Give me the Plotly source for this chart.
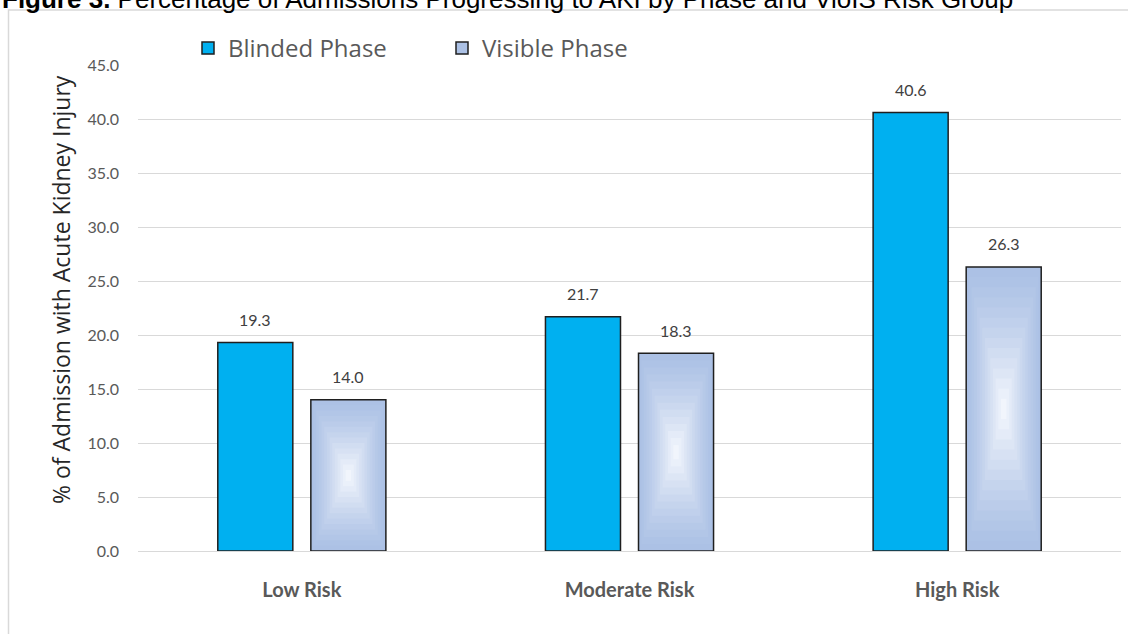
import plotly.graph_objects as go

categories = ["Low Risk", "Moderate Risk", "High Risk"]
blinded = [19.3, 21.7, 40.6]
visible = [14.0, 18.3, 26.3]
y_ticks = [0, 5, 10, 15, 20, 25, 30, 35, 40, 45]
series_names = ["Blinded Phase", "Visible Phase"]

W, H = 1128, 634
ML, MR, MT, MB = 138, 7, 65, 83
PW = W - ML - MR
PH = H - MT - MB

BAR_W = 0.229
CENTER_OFF = 0.142
EDGE = "#1f1f1f"

fig = go.Figure()

# Blinded phase bars
fig.add_trace(go.Bar(
    x=categories, y=blinded, name=series_names[0],
    width=BAR_W, offset=-CENTER_OFF - BAR_W / 2,
    marker=dict(color="#00b0f0", line=dict(color=EDGE, width=1.5)),
    hoverinfo="skip", showlegend=True,
))

# Visible phase bars with a rectangular centre gradient (nested layers)
outer = (172, 193, 229)
inner = (241, 245, 252)
n = 14
for i in range(n):
    s = 1 - i / n
    t = (i / (n - 1)) ** 1.3
    col = tuple(round(outer[k] + (inner[k] - outer[k]) * t) for k in range(3))
    fig.add_trace(go.Bar(
        x=categories,
        y=[v * s for v in visible],
        base=[v * (1 - s) / 2 for v in visible],
        width=BAR_W * s,
        offset=CENTER_OFF - BAR_W * s / 2,
        name=series_names[1],
        marker=dict(color="rgb(%d,%d,%d)" % col,
                    line=dict(color=EDGE, width=1.5 if i == 0 else 0)),
        hoverinfo="skip", showlegend=(i == 0),
    ))

# data labels
for cat, b, v in zip(categories, blinded, visible):
    for val, sign in ((b, -1), (v, 1)):
        fig.add_annotation(
            x=cat, y=val, xref="x", yref="y", text="%.1f" % val,
            showarrow=False, xshift=sign * CENTER_OFF * PW / 3, yshift=23,
            yanchor="middle", font=dict(family="Lato", size=16, color="#404040"),
        )

# y-axis title
fig.add_annotation(
    x=(43 - ML) / PW, y=(H - MB - 290) / PH, xref="paper", yref="paper",
    text="% of Admission with Acute Kidney Injury", textangle=-90,
    showarrow=False, font=dict(family="Open Sans", size=23, color="#262626"),
)

# figure caption at the very top (partly cut off, as in the source)
fig.add_annotation(
    x=(0 - ML) / PW, y=(H - MB - 16) / PH, xref="paper", yref="paper",
    xanchor="left", yanchor="bottom",
    text="<b>Figure 3.</b> Percentage of Admissions Progressing to AKI by Phase and VioIS Risk Group",
    showarrow=False, font=dict(family="Liberation Sans", size=26, color="#000000"),
)

# chart border (left and top edges visible)
fig.add_shape(
    type="rect", xref="paper", yref="paper",
    x0=(8.5 - ML) / PW, x1=(1140 - ML) / PW,
    y0=(H - MB - 660) / PH, y1=(H - MB - 10) / PH,
    line=dict(color="#d9d9d9", width=1.5), fillcolor="rgba(0,0,0,0)", layer="below",
)

fig.update_layout(
    width=W, height=H,
    margin=dict(l=ML, r=MR, t=MT, b=MB),
    barmode="overlay",
    plot_bgcolor="white", paper_bgcolor="white",
    showlegend=True,
    legend=dict(
        orientation="h", x=(188 - ML) / PW, y=(H - MB - 26) / PH,
        xanchor="left", yanchor="top",
        font=dict(family="Open Sans", size=24, color="#595959"),
        entrywidth=209, entrywidthmode="pixels", itemwidth=30,
        bgcolor="rgba(0,0,0,0)",
    ),
    xaxis=dict(
        type="category", range=[-0.5, 2.5], showgrid=False,
        showline=True, linecolor="#d9d9d9", linewidth=1,
        tickfont=dict(family="Lato", size=20, color="#595959", weight="bold"),
        ticks="", ticklabelstandoff=21,
    ),
    yaxis=dict(
        range=[0, 45], tickvals=y_ticks,
        ticktext=["%.1f" % t for t in y_ticks],
        showgrid=True, gridcolor="#d9d9d9", gridwidth=1,
        zeroline=False, showline=False,
        tickfont=dict(family="Lato", size=16, color="#595959"),
        ticks="", ticklabelstandoff=18,
    ),
)

fig.write_html("out.html")
